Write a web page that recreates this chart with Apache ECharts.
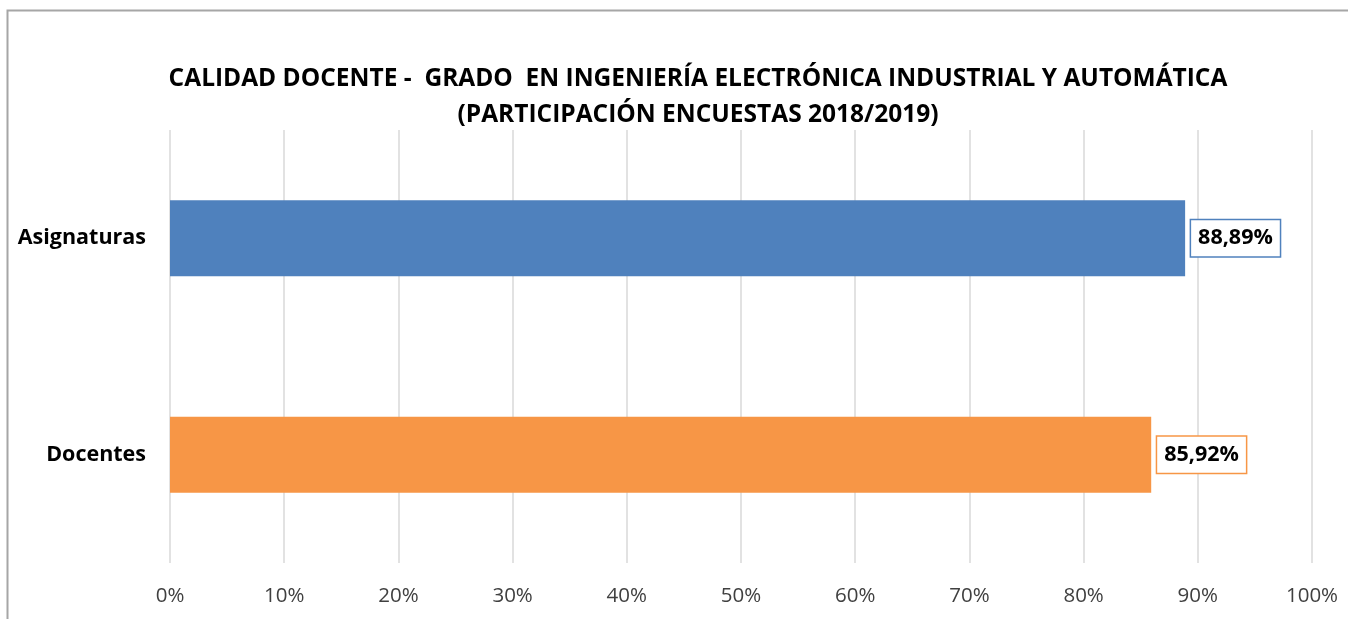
<!DOCTYPE html>
<html>
<head>
<meta charset="utf-8">
<script src="https://cdn.jsdelivr.net/npm/echarts@6/dist/echarts.min.js"></script>
<style>
  html, body { margin: 0; padding: 0; background: #fff; }
  #chart { width: 1348px; height: 619px; }
</style>
</head>
<body>
<div id="chart"></div>
<script>
// Survey participation by category (percent)
const categories = ['Asignaturas', 'Docentes'];
const values = [88.89, 85.92];
const barColors = ['#4F81BD', '#F79646'];
const titleLines = [
  'CALIDAD DOCENTE -  GRADO  EN INGENIERÍA ELECTRÓNICA INDUSTRIAL Y AUTOMÁTICA',
  '(PARTICIPACIÓN ENCUESTAS 2018/2019)'
];

const chart = echarts.init(document.getElementById('chart'));
const fmt = v => v.toFixed(2).replace('.', ',') + '%';

chart.setOption({
  animation: false,
  backgroundColor: '#fff',
  graphic: [{
    type: 'rect',
    shape: { x: 7.5, y: 10.5, width: 1400, height: 700 },
    style: { fill: 'none', stroke: '#a6a6a6', lineWidth: 2 },
    silent: true
  }],
  title: {
    text: titleLines.join('\n'),
    left: 693,
    textAlign: 'center',
    top: 56,
    textStyle: {
      fontFamily: 'Open Sans',
      fontWeight: 'bold',
      fontSize: 24.5,
      lineHeight: 36,
      color: '#000'
    }
  },
  grid: { left: 170, right: 36, top: 130, bottom: 56 },
  xAxis: {
    type: 'value',
    min: 0,
    max: 100,
    interval: 10,
    axisLine: { show: false },
    axisTick: { show: false },
    splitLine: { lineStyle: { color: '#d9d9d9', width: 1.5 } },
    axisLabel: {
      formatter: v => v + '%',
      fontFamily: 'Open Sans',
      fontSize: 20.5,
      color: '#404040',
      margin: 23
    }
  },
  yAxis: {
    type: 'category',
    data: categories,
    inverse: true,
    axisLine: { show: false },
    axisTick: { show: false },
    axisLabel: {
      fontFamily: 'Open Sans',
      fontWeight: 'bold',
      fontSize: 21.5,
      color: '#000',
      margin: 24
    }
  },
  series: [{
    type: 'bar',
    data: values.map((v, i) => ({
      value: v,
      itemStyle: { color: barColors[i] },
      label: { borderColor: barColors[i] }
    })),
    barWidth: 76,
    label: {
      show: true,
      position: 'right',
      distance: 6,
      formatter: p => fmt(p.value),
      fontFamily: 'Open Sans',
      fontWeight: 'bold',
      fontSize: 21.5,
      color: '#000',
      backgroundColor: '#fff',
      borderWidth: 1.5,
      padding: [8, 7, 6, 7]
    }
  }]
});
</script>
</body>
</html>
